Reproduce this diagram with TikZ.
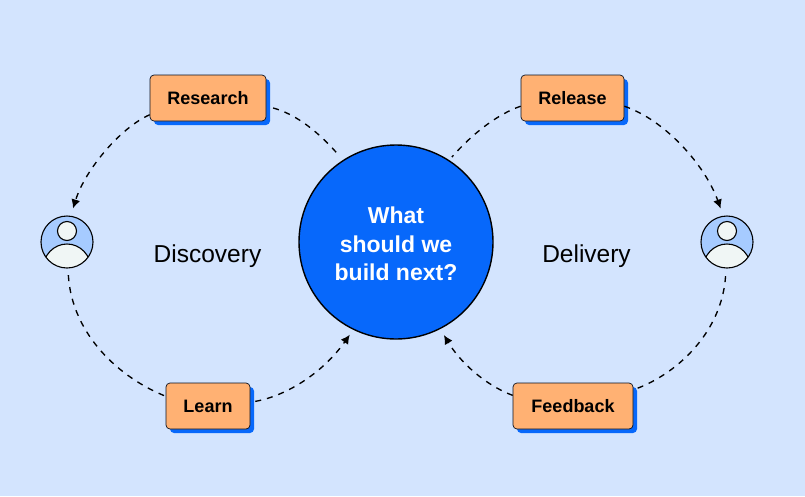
\documentclass[tikz,border=0pt]{standalone}
\usepackage{fontspec}
\setmainfont{Liberation Sans}
\usetikzlibrary{arrows.meta,shadows}
\definecolor{bgc}{HTML}{D3E4FE}
\definecolor{orangec}{HTML}{FFB173}
\definecolor{bluec}{HTML}{0768FB}
\definecolor{lightb}{HTML}{A6CBFF}
\definecolor{paleb}{HTML}{F0F6F5}
\definecolor{inkc}{HTML}{0B1220}
\tikzset{
  x=1pt,y=-1pt,
  stagebox/.style={draw=inkc,line width=0.7pt,fill=orangec,rounded corners=4pt,minimum height=46pt,inner sep=0pt,
    font=\fontsize{18}{20}\selectfont\bfseries,text=black,
    copy shadow={shadow xshift=4pt,shadow yshift=-4pt,draw=none,fill=bluec,opacity=1}},
  hubnode/.style={circle,draw=black,line width=1.4pt,fill=bluec,minimum size=194pt,inner sep=0pt,text=white,align=center,
    font=\fontsize{23}{28.5}\selectfont\bfseries},
  personnode/.style={circle,minimum size=52pt,inner sep=0pt,fill=lightb},
  personline/.style={draw=black,line width=1.1pt},
  flow/.style={draw=black,line width=1.35pt,dash pattern=on 6pt off 6pt},
  flowarrow/.style={flow,-{Latex[length=9pt,width=9pt]}},
  phase/.style={font=\fontsize{24.5}{28}\selectfont,text=black,inner sep=0pt},
}
\newcommand{\personicon}[2]{%
  \begin{scope}
    \clip (#1,#2) circle[radius=26];
    \draw[personline,fill=paleb] (#1,#2+27) ellipse[x radius=24,y radius=25];
  \end{scope}
  \draw[personline,fill=paleb] (#1,#2-11) circle[radius=9.5];
  \draw[personline] (#1,#2) circle[radius=26];
}
\begin{document}
\begin{tikzpicture}
\useasboundingbox (0,0) rectangle (805,496);
\fill[bgc] (0,0) rectangle (805,496);

\node[hubnode] (hub) at (396,242) {\rule{0pt}{21pt}What\\should we\\build next?};
\node[stagebox,minimum width=116pt] (research) at (208,98) {Research};
\node[stagebox,minimum width=84pt] (learn) at (208,406) {Learn};
\node[stagebox,minimum width=103pt] (release) at (572.5,98) {Release};
\node[stagebox,minimum width=120pt] (feedback) at (573,406) {Feedback};
\node[personnode] (userA) at (67,242) {};
\node[personnode] (userB) at (727,242) {};
\personicon{67}{242}
\personicon{727}{242}
\node[phase] (discovery) at (207.5,256) {Discovery};
\node[phase] (delivery) at (586.5,256) {Delivery};

\draw[flow,shorten <=7pt,shorten >=5pt] (research.-8) .. controls (296,114) and (320,133) .. (hub.123);
\draw[flowarrow,shorten >=8pt] (research.196) .. controls (120,128) and (85,170) .. (userA.82);
\draw[flow,shorten <=7pt] (userA.-88) .. controls (72,335) and (120,378) .. (learn.167);
\draw[flowarrow,shorten <=5pt,shorten >=6pt] (learn.5) .. controls (290,395) and (325,370) .. (hub.-116);
\draw[flow,shorten >=4pt] (release.189) .. controls (498,114) and (473,133) .. (hub.57);
\draw[flowarrow,shorten >=8pt] (release.-9) .. controls (665,120) and (705,165) .. (userB.98);
\draw[flow,shorten <=8pt,shorten >=4pt] (userB.-92) .. controls (722,330) and (680,372) .. (feedback.15);
\draw[flowarrow,shorten >=7pt] (feedback.170) .. controls (485,385) and (460,362) .. (hub.-63);
\end{tikzpicture}
\end{document}
